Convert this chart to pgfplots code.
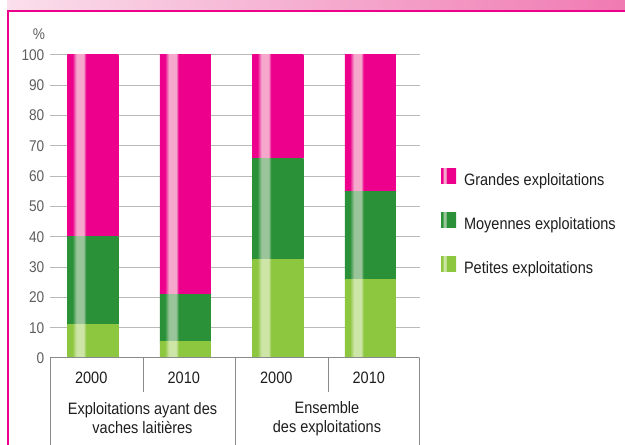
\documentclass[border=0pt]{standalone}
\usepackage{fontspec}
\setmainfont{Liberation Sans}[FakeStretch=0.88]
\usepackage{pgfplots}
\pgfplotsset{compat=1.18}
\definecolor{cP}{HTML}{EC008C}
\definecolor{cPl}{HTML}{F5A8CC}
\definecolor{cG}{HTML}{2A9139}
\definecolor{cGl}{HTML}{9AC59A}
\definecolor{cL}{HTML}{8DC63F}
\definecolor{cLl}{HTML}{CDE5A6}
\definecolor{framec}{HTML}{EC008C}
\definecolor{bandL}{HTML}{FADFEC}
\definecolor{bandR}{HTML}{F07AB2}
\definecolor{tickc}{HTML}{5F5F5F}
\definecolor{txt}{HTML}{1E1E1E}
\definecolor{gridc}{HTML}{B9B9B9}
\definecolor{tabc}{HTML}{8A8A8A}
\pgfdeclarehorizontalshading{pinkS}{100bp}{color(0bp)=(cP); color(30bp)=(cP); color(34bp)=(cPl); color(41bp)=(cPl); color(43.5bp)=(cP); color(100bp)=(cP)}
\pgfdeclarehorizontalshading{greenS}{100bp}{color(0bp)=(cG); color(30bp)=(cG); color(34bp)=(cGl); color(41bp)=(cGl); color(43.5bp)=(cG); color(100bp)=(cG)}
\pgfdeclarehorizontalshading{limeS}{100bp}{color(0bp)=(cL); color(30bp)=(cL); color(34bp)=(cLl); color(41bp)=(cLl); color(43.5bp)=(cL); color(100bp)=(cL)}
% values per category: Petites, Moyennes, Grandes (%)
\pgfplotsset{
  base/.style={
    at={(50bp,87bp)}, anchor=south west,
    scale only axis, width=370bp, height=303bp,
    xmin=-0.5, xmax=3.5, ymin=0, ymax=100,
    ybar stacked, bar width=51bp, bar shift=-3.5bp,
    clip=false},
  sP/.style={draw=none, fill=cL, shade, shading=limeS},
  sM/.style={draw=none, fill=cG, shade, shading=greenS},
  sG/.style={draw=none, fill=cP, shade, shading=pinkS},
}
\begin{document}
\fontsize{16.5bp}{19bp}\selectfont
\begin{tikzpicture}[x=1bp,y=1bp]
\useasboundingbox (0,0) rectangle (625,445);
\fill[white] (0,0) rectangle (625,445);
\shade[left color=bandL, right color=bandR] (7,434) rectangle (625,445);
% category 0 : Exploitations ayant des vaches laitieres, 2000
\begin{axis}[base,
  axis line style={draw=none}, major tick length=0pt,
  ymajorgrids, grid style={gridc, line width=1bp},
  ytick={0,10,...,100},
  /pgf/number format/assume math mode=true,
  yticklabel style={tickc, font=\fontsize{15.5bp}{18bp}\selectfont},
  xtick={0,1,2,3}, xticklabels={2000,2010,2000,2010},
  xticklabel style={txt, anchor=center, yshift=-20bp, xshift=-5bp},
  reverse legend,
  legend style={at={(1,0.627)}, anchor=north west, xshift=21bp,
    draw=none, fill=none, inner sep=0pt, outer sep=0pt,
    row sep=23bp, column sep=8bp,
    nodes={inner sep=0pt, text height=17bp, text depth=4bp, txt}},
  legend cell align=left,
]
\addplot[sP, legend image code/.code={\shade[shading=limeS] (0bp,-5bp) rectangle (15bp,10bp);}]
  coordinates {(0,11)};
\addlegendentry{Petites exploitations}
\addplot[sM, legend image code/.code={\shade[shading=greenS] (0bp,-5bp) rectangle (15bp,10bp);}]
  coordinates {(0,29)};
\addlegendentry{Moyennes exploitations}
\addplot[sG, legend image code/.code={\shade[shading=pinkS] (0bp,-5bp) rectangle (15bp,10bp);}]
  coordinates {(0,60)};
\addlegendentry{Grandes exploitations}
\end{axis}
% category 1 : Exploitations ayant des vaches laitieres, 2010
\begin{axis}[base, hide axis]
\addplot[sP] coordinates {(1,5.5)};
\addplot[sM] coordinates {(1,15.5)};
\addplot[sG] coordinates {(1,79)};
\end{axis}
% category 2 : Ensemble des exploitations, 2000
\begin{axis}[base, hide axis]
\addplot[sP] coordinates {(2,32.5)};
\addplot[sM] coordinates {(2,33.5)};
\addplot[sG] coordinates {(2,34)};
\end{axis}
% category 3 : Ensemble des exploitations, 2010
\begin{axis}[base, hide axis]
\addplot[sP] coordinates {(3,26)};
\addplot[sM] coordinates {(3,29)};
\addplot[sG] coordinates {(3,45)};
\end{axis}
\draw[tabc, line width=1bp] (50,87) -- (419,87);
\draw[tabc, line width=1bp] (50,87) -- (50,0);
\draw[tabc, line width=1bp] (235,87) -- (235,0);
\draw[tabc, line width=1bp] (419,87) -- (419,0);
\draw[tabc, line width=1bp] (143,87) -- (143,53);
\draw[tabc, line width=1bp] (328,87) -- (328,53);
\draw[framec, line width=2bp] (8,0) -- (8,434) -- (625,434);
\node[tickc, font=\fontsize{15.5bp}{18bp}\selectfont] at (39,411) {\%};
\node[txt, align=center] at (142.5,26.5) {Exploitations ayant des\\vaches laitières};
\node[txt, align=center] at (327,26.5) {Ensemble\\des exploitations};
\end{tikzpicture}
\end{document}
